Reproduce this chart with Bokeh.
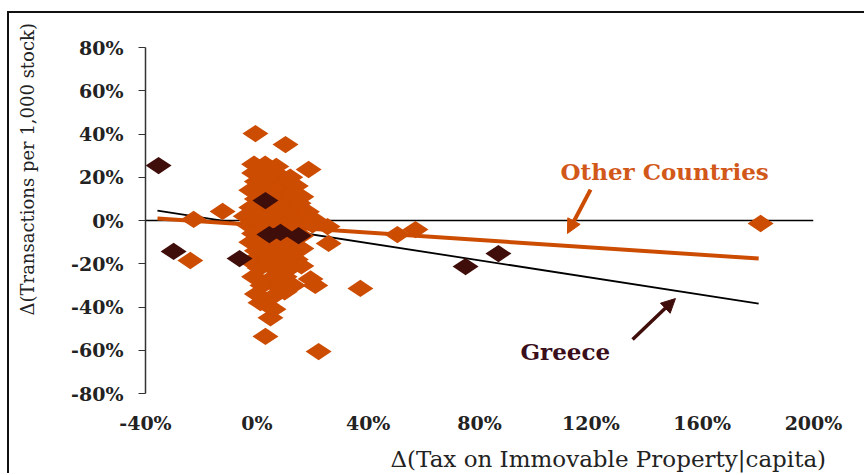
import math
from bokeh.plotting import figure
from bokeh.models import (Label, Arrow, NormalHead, Span, FixedTicker,
                          PrintfTickFormatter, Range1d, Title)
from bokeh.embed import file_html
from bokeh.resources import INLINE

# ---- data (percent changes) ----
x_ticks = [-40, 0, 40, 80, 120, 160, 200]
y_ticks = [-80, -60, -40, -20, 0, 20, 40, 60, 80]

other_x = [-0.5, 10.3, 18.6, -22.7, -12.3, -23.9, 3.1, 22.2, 4.9, 1.3, 6.0,
           25.8, 25.4, 37.2, 50.5, 57.0, 181.0, 19.3,
           -1, 3, 7, -1, 4, 8, 12, 0, 5, 10, 14, -2, 3, 8, 13, 16,
           0, 6, 11, 15, -2, 3, 9, 14, 18, -4, 1, 6, 12, 17, 21,
           -3, 2, 10, 15, 20, -1, 4, 12, 16, -2, 3, 8, 13,
           0, 6, 11, 16, -2, 4, 9, 14, 1, 7, 12, 16, -1, 5, 10,
           2, 8, 13, 21, 0, 6, 10]
other_y = [40.2, 35.1, 23.6, 0.5, 4.2, -18.5, -53.6, -60.6, -45.0, -38.0, -41.0,
           -10.6, -2.8, -31.4, -6.5, -4.2, -1.4, -27.0,
           26, 26, 25, 22, 22, 21, 20, 18, 18, 17, 16, 14, 14, 13, 13, 11,
           10, 10, 9, 8, 6, 5, 6, 5, 4, 2, 2, 1, 2, 1, 0,
           -2, -3, -2, -3, -2, -6, -7, -6, -7, -10, -11, -10, -11,
           -14, -15, -14, -13, -19, -18, -19, -18, -22, -23, -22, -21, -26, -27, -26,
           -30, -31, -30, -30, -34, -35, -33]

greece_x = [-35.3, -29.9, -6.2, 3.1, 4.5, 8.5, 15.0, 75.0, 86.8]
greece_y = [25.4, -14.3, -17.6, 9.2, -6.5, -5.5, -7.0, -21.3, -15.3]

fit_x = [-35.7, 180.3]
other_fit = [0.9, -17.6]
greece_fit = [4.6, -38.4]

ORANGE = "#CC4C02"
DARK = "#400E0A"
SERIF = "DejaVu Serif"

p = figure(width=857, height=462, x_range=Range1d(-40, 200), y_range=Range1d(-80, 80),
           output_backend="svg", toolbar_location=None,
           min_border_left=136, min_border_right=53, min_border_top=34, min_border_bottom=82)
p.styles = {"margin-left": "7px", "margin-top": "11px",
            "border-left": "2px solid #111111", "border-top": "2px solid #111111"}
p.outline_line_color = None
p.grid.visible = False
p.background_fill_color = "white"
p.border_fill_color = "white"

# y axis
ya = p.yaxis[0]
ya.ticker = FixedTicker(ticks=y_ticks)
ya.formatter = PrintfTickFormatter(format="%d%%")
ya.axis_line_color = "#333333"
ya.axis_line_width = 1.5
ya.major_tick_line_color = "#333333"
ya.major_tick_in = 0
ya.major_tick_out = 7
ya.minor_tick_line_color = None
ya.major_label_standoff = 15
ya.major_label_text_font = SERIF
ya.major_label_text_font_size = "19px"
ya.major_label_text_font_style = "bold"
ya.major_label_text_color = "#222222"

# x axis (labels only)
xa = p.xaxis[0]
xa.ticker = FixedTicker(ticks=x_ticks)
xa.formatter = PrintfTickFormatter(format="%d%%")
xa.axis_line_color = None
xa.major_tick_line_color = None
xa.major_tick_in = 0
xa.major_tick_out = 0
xa.minor_tick_line_color = None
xa.major_label_standoff = 18
xa.major_label_text_font = SERIF
xa.major_label_text_font_size = "19px"
xa.major_label_text_font_style = "bold"
xa.major_label_text_color = "#222222"

# axis titles (with thin spacer panels to place them like the original)
p.add_layout(Title(text="\u00a0", text_font_size="1px", standoff=12), "below")
p.add_layout(Title(text="\u0394(Tax on Immovable Property|capita)", align="left", offset=245,
                   text_font=SERIF, text_font_size="23px", text_font_style="normal",
                   text_color="#222222", standoff=-16), "below")
p.add_layout(Title(text="\u00a0", text_font_size="1px", standoff=24), "left")
p.add_layout(Title(text="\u0394(Transactions per 1,000 stock)", align="left", offset=78,
                   text_font=SERIF, text_font_size="18px", text_font_style="normal",
                   text_color="#222222", standoff=7), "left")

# zero line
p.add_layout(Span(location=0, dimension="width", line_color="black", line_width=1.5, level="underlay"))

# fit lines
p.line(fit_x, greece_fit, line_color="black", line_width=1.8)
p.line(fit_x, other_fit, line_color=ORANGE, line_width=4)

# points
p.scatter(other_x, other_y, marker="diamond", size=26, angle=math.pi / 2,
          fill_color=ORANGE, line_color=None)
p.scatter(greece_x, greece_y, marker="diamond", size=26, angle=math.pi / 2,
          fill_color=DARK, line_color=None)

# annotations
p.add_layout(Label(x=109.1, y=22.7, text="Other Countries", text_font=SERIF,
                   text_font_style="bold", text_font_size="23px", text_color="#D2581A",
                   text_baseline="middle", text_align="left"))
p.add_layout(Label(x=94.7, y=-60.6, text="Greece", text_font=SERIF,
                   text_font_style="bold", text_font_size="23px", text_color="#3A0E1A",
                   text_baseline="middle", text_align="left"))
p.add_layout(Arrow(end=NormalHead(size=14, fill_color=ORANGE, line_color=ORANGE),
                   x_start=119.9, y_start=14.3, x_end=111.6, y_end=-6.0,
                   line_color=ORANGE, line_width=4))
p.add_layout(Arrow(end=NormalHead(size=14, fill_color=DARK, line_color=DARK),
                   x_start=135.0, y_start=-55.0, x_end=150.4, y_end=-36.1,
                   line_color=DARK, line_width=3.5))

open("out.html", "w").write(file_html(p, INLINE))
